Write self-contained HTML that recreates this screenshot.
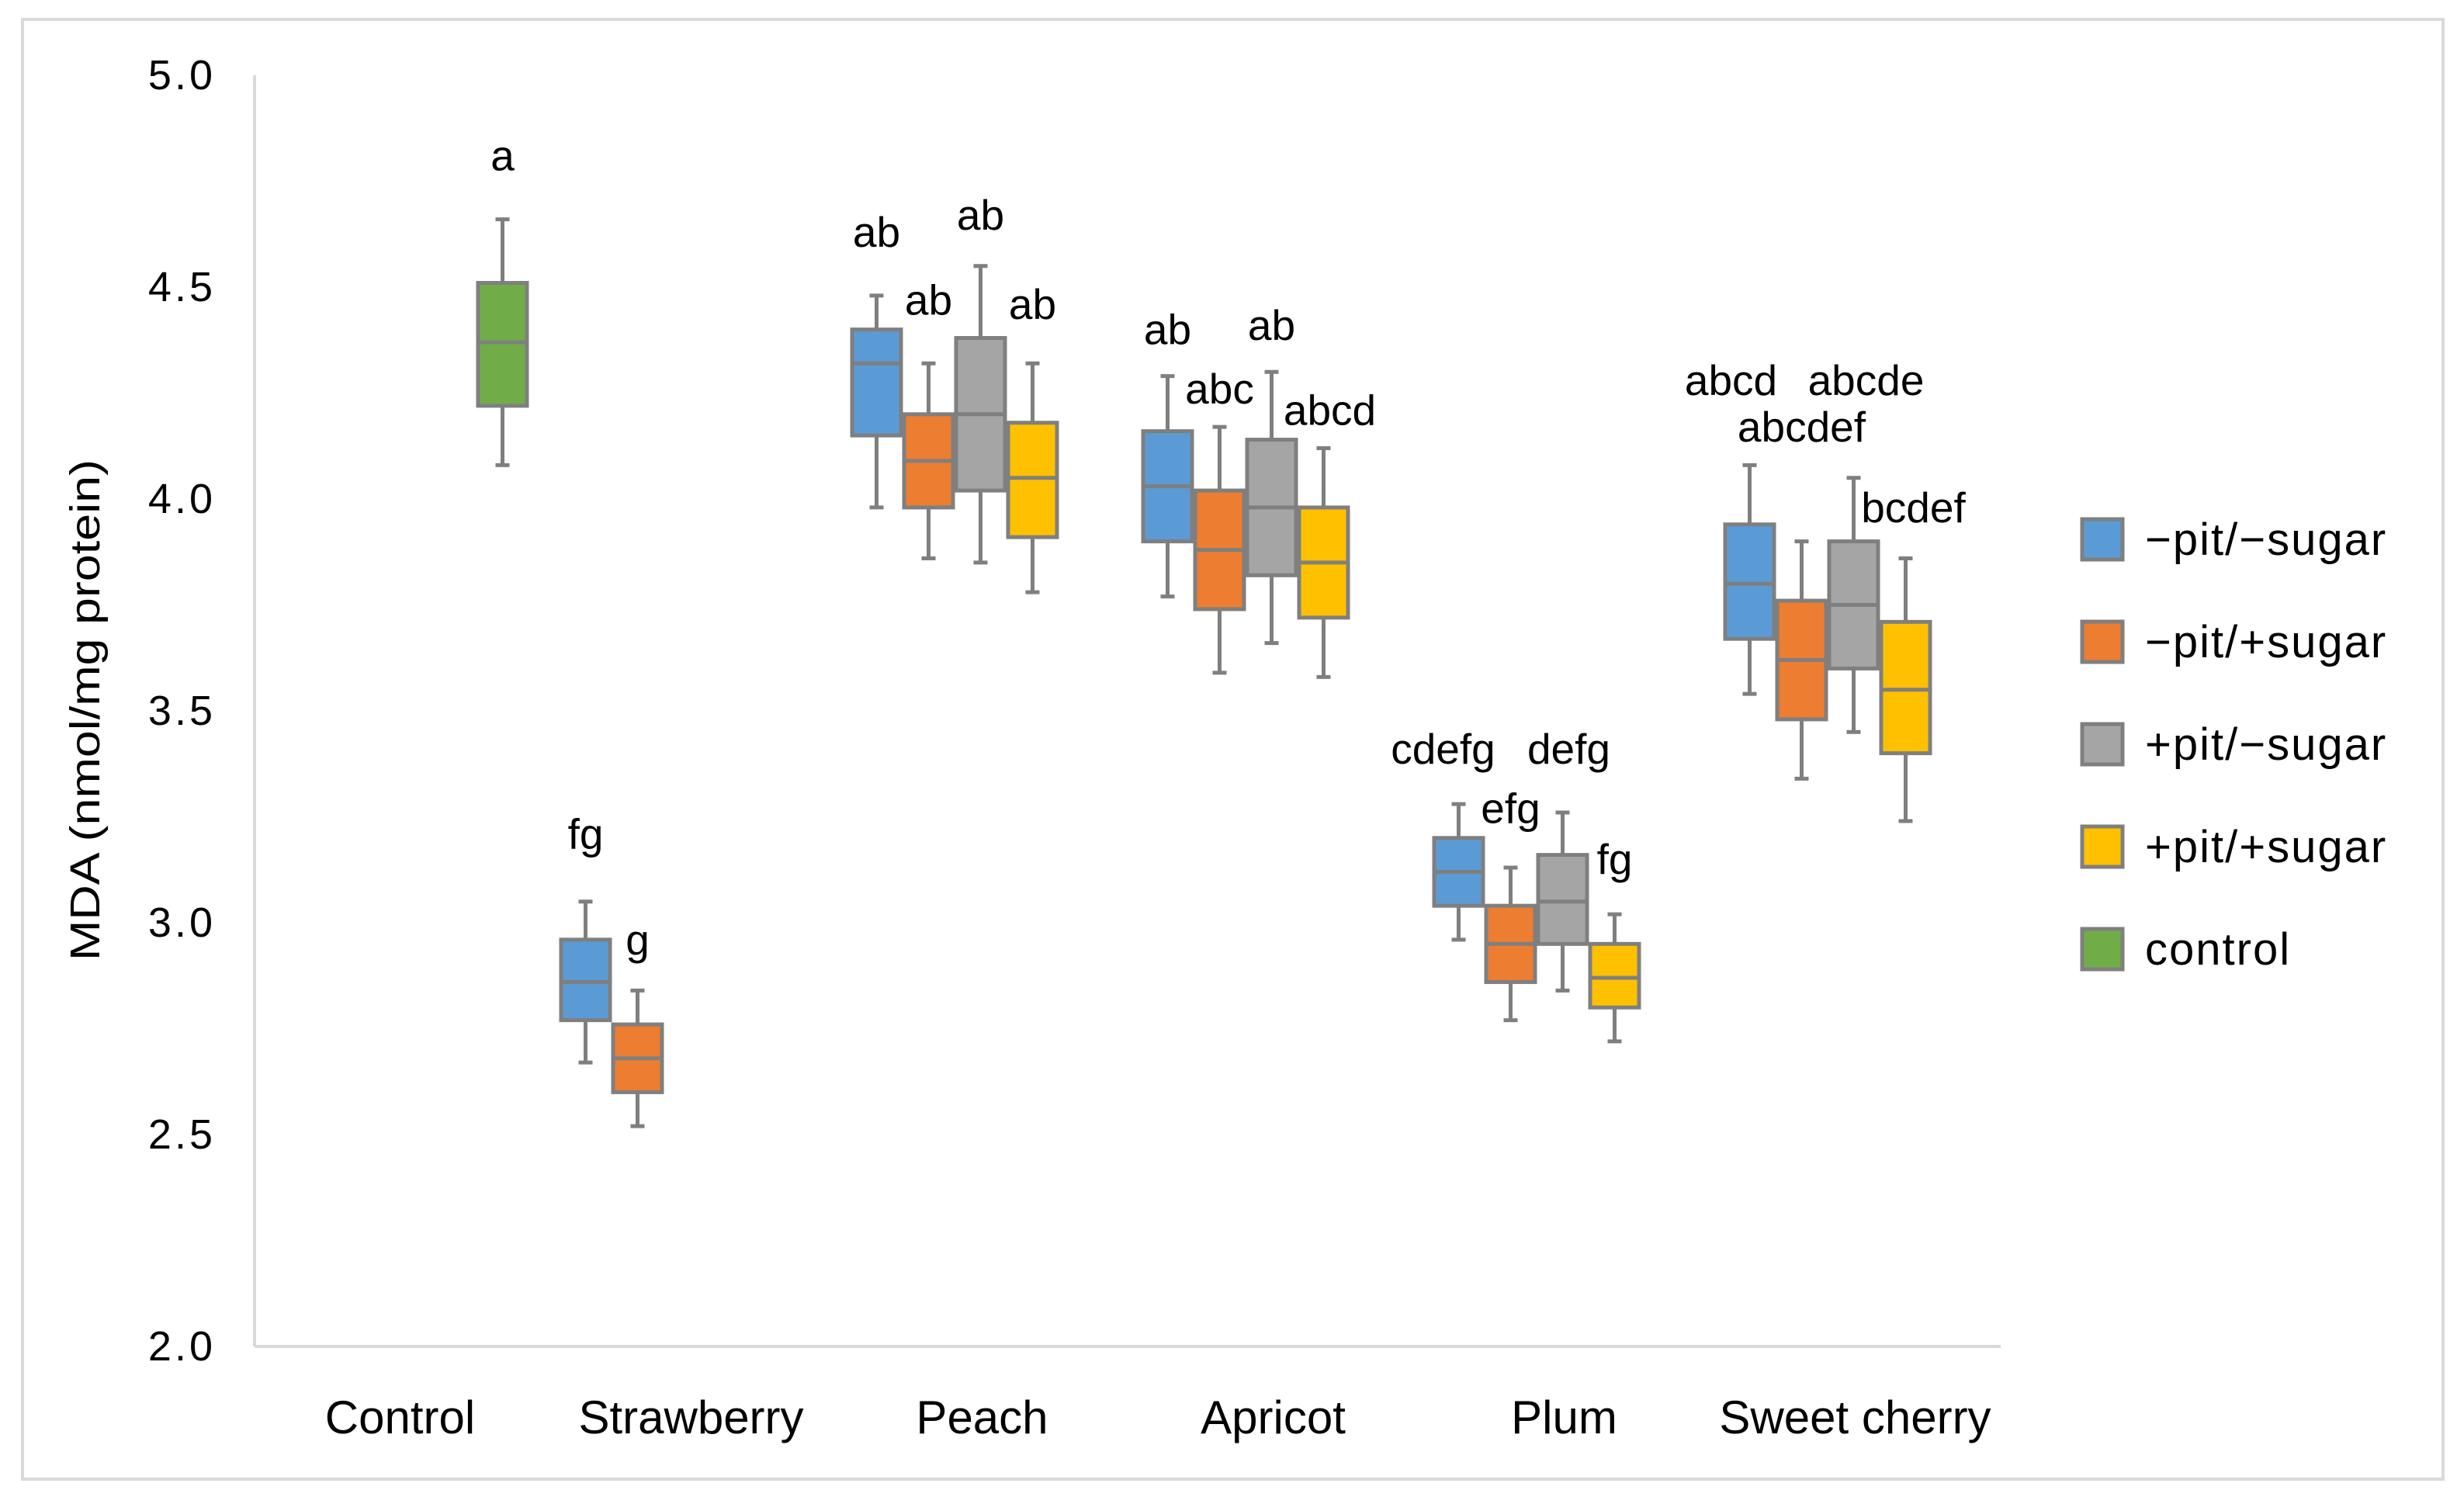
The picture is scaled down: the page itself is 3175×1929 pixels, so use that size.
<!DOCTYPE html>
<html><head><meta charset="utf-8"><title>MDA boxplot</title>
<style>html,body{margin:0;padding:0;background:#fff;}svg{display:block;}</style></head>
<body>
<svg id="chart" xmlns="http://www.w3.org/2000/svg" width="3175" height="1929" viewBox="0 0 3175 1929" font-family="'Liberation Sans', sans-serif">
<rect x="29" y="25" width="3119" height="1881" fill="#fff" stroke="#d9d9d9" stroke-width="4"/>
<g id="plot"></g>
</svg>
<script>
const categories = ["Control","Strawberry","Peach","Apricot","Plum","Sweet cherry"];
const seriesNames = ["\u2212pit/\u2212sugar","\u2212pit/+sugar","+pit/\u2212sugar","+pit/+sugar","control"];
const seriesColors = ["#5b9bd5","#ed7d31","#a5a5a5","#ffc000","#70ad47"];
const yTicks = [2.0,2.5,3.0,3.5,4.0,4.5,5.0];
// per series: [categoryIndex, whiskerLow, q1, median, q3, whiskerHigh, letters, labelValue]
const sBlue = [[1,2.67,2.77,2.86,2.96,3.05,"fg",3.21],[2,3.98,4.15,4.32,4.40,4.48,"ab",4.63],[3,3.77,3.90,4.03,4.16,4.29,"ab",4.40],[4,2.96,3.04,3.12,3.20,3.28,"cdefg",3.41],[5,3.54,3.67,3.80,3.94,4.08,"abcd",4.28]];
const sOrange = [[1,2.52,2.60,2.68,2.76,2.84,"g",2.96],[2,3.86,3.98,4.09,4.20,4.32,"ab",4.47],[3,3.59,3.74,3.88,4.02,4.17,"abc",4.26],[4,2.77,2.86,2.95,3.04,3.13,"efg",3.27],[5,3.34,3.48,3.62,3.76,3.90,"abcdef",4.17]];
const sGray = [[2,3.85,4.02,4.20,4.38,4.55,"ab",4.67],[3,3.66,3.82,3.98,4.14,4.30,"ab",4.41],[4,2.84,2.95,3.05,3.16,3.26,"defg",3.41],[5,3.45,3.60,3.75,3.90,4.05,"abcde",4.28]];
const sYellow = [[2,3.78,3.91,4.05,4.18,4.32,"ab",4.46],[3,3.58,3.72,3.85,3.98,4.12,"abcd",4.21],[4,2.72,2.80,2.87,2.95,3.02,"fg",3.15],[5,3.24,3.40,3.55,3.71,3.86,"bcdef",3.98]];
const sGreen = [[0,4.08,4.22,4.37,4.51,4.66,"a",4.81]];
const allSeries = [sBlue,sOrange,sGray,sYellow,sGreen];

const X0=328, X1=2578, Y0=1735, Y1=97, VMIN=2, VMAX=5;
const yScale = v => Y0 - (v-VMIN)/(VMAX-VMIN)*(Y0-Y1);
const band = (X1-X0)/categories.length;
const xCenter = i => X0 + band*(i+0.5);
const slot = 67;
const boxW = 63;
// layout-only horizontal nudges for crowded letter labels (pixels), keyed "cat-series"
const labelNudge = {"4-0":-20,"4-2":8,"5-0":-24,"5-2":16,"5-3":10,"3-3":8};
const NS="http://www.w3.org/2000/svg";
const g=document.getElementById('plot');
function mk(tag,attrs,parent){const e=document.createElementNS(NS,tag);for(const k in attrs)e.setAttribute(k,attrs[k]);(parent||g).appendChild(e);return e;}

let a=mk('line',{x1:X0,y1:Y1,x2:X0,y2:Y0,stroke:'#d9d9d9','stroke-width':4});


a=mk('line',{x1:X0,y1:Y0,x2:X1,y2:Y0,stroke:'#d9d9d9','stroke-width':4});



yTicks.forEach(t=>{
  const e=mk('text',{x:278,y:yScale(t)+18,'text-anchor':'end','font-size':54,'letter-spacing':4,fill:'#000'});
  e.textContent=t.toFixed(1);
  
  
});
categories.forEach((c,i)=>{
  const e=mk('text',{x:xCenter(i),y:1847,'text-anchor':'middle','font-size':60,fill:'#000'});
  e.textContent=c;
  
  
});
const yt=mk('text',{x:0,y:0,'text-anchor':'middle','font-size':54,textLength:646,lengthAdjust:'spacingAndGlyphs',fill:'#000',transform:'translate(128,915) rotate(-90)'});
yt.textContent='MDA (nmol/mg protein)';



allSeries.forEach((ser,si)=>{
  ser.forEach(d=>{
    const [ci,lo,q1,med,q3,hi,lab,lv]=d;
    const cx=xCenter(ci)+(si-2)*slot - 2;
    const grp=mk('g',{});
    
    
    const sw=5, col='#7f7f7f';
    mk('line',{x1:cx,y1:yScale(hi),x2:cx,y2:yScale(q3),stroke:col,'stroke-width':sw},grp);
    mk('line',{x1:cx,y1:yScale(q1),x2:cx,y2:yScale(lo),stroke:col,'stroke-width':sw},grp);
    mk('line',{x1:cx-9,y1:yScale(hi),x2:cx+9,y2:yScale(hi),stroke:col,'stroke-width':sw},grp);
    mk('line',{x1:cx-9,y1:yScale(lo),x2:cx+9,y2:yScale(lo),stroke:col,'stroke-width':sw},grp);
    mk('rect',{x:cx-boxW/2,y:yScale(q3),width:boxW,height:yScale(q1)-yScale(q3),fill:seriesColors[si],stroke:col,'stroke-width':sw},grp);
    mk('line',{x1:cx-boxW/2,y1:yScale(med),x2:cx+boxW/2,y2:yScale(med),stroke:col,'stroke-width':sw},grp);
    const nx = labelNudge[ci+'-'+si] || 0;
    const t=mk('text',{x:cx+nx,y:yScale(lv)+19,'text-anchor':'middle','font-size':55,fill:'#000'});
    t.textContent=lab;
    
    
  });
});

seriesNames.forEach((n,i)=>{
  const y=695+i*132;
  const lg=mk('g',{});
  
  
  mk('rect',{x:2683,y:y-26,width:52,height:52,fill:seriesColors[i],stroke:'#7f7f7f','stroke-width':5},lg);
  const t=mk('text',{x:2764,y:y+20,'font-size':58,'letter-spacing':2,fill:'#000'},lg);
  t.textContent=n;
});
</script>
</body></html>
